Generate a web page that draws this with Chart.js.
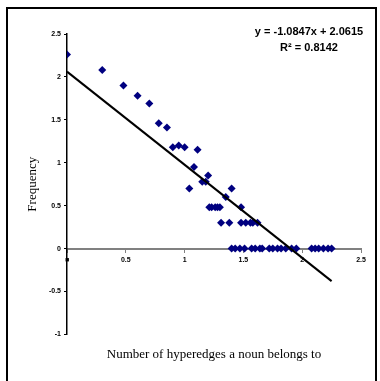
<!DOCTYPE html>
<html>
<head>
<meta charset="utf-8">
<script src="https://cdn.jsdelivr.net/npm/chart.js@4/dist/chart.umd.min.js"></script>
<style>
  html, body { margin: 0; padding: 0; background: #fff; }
  #box { width: 380px; height: 381px; }
</style>
</head>
<body>
<div id="box"><canvas id="myChart" width="380" height="381"></canvas></div>
<script>
// dados
const pontosX = [0, 0.30, 0.48, 0.60, 0.70, 0.78, 0.85, 0.90, 0.95, 1.00,
  1.04, 1.08, 1.11, 1.15, 1.18, 1.20, 1.21, 1.23, 1.26, 1.28,
  1.30, 1.31, 1.35, 1.38, 1.40, 1.48, 1.48, 1.52, 1.56, 1.58, 1.62,
  1.40, 1.43, 1.47, 1.51, 1.57, 1.60, 1.64, 1.66, 1.72, 1.75,
  1.79, 1.82, 1.86, 1.91, 1.95, 2.08, 2.11, 2.14, 2.18, 2.22, 2.25];
const pontosY = [2.26, 2.08, 1.90, 1.78, 1.69, 1.46, 1.41, 1.18, 1.20, 1.18,
  0.70, 0.95, 1.15, 0.78, 0.78, 0.85, 0.48, 0.48, 0.48, 0.48,
  0.48, 0.30, 0.60, 0.30, 0.70, 0.48, 0.30, 0.30, 0.30, 0.30, 0.30,
  0, 0, 0, 0, 0, 0, 0, 0, 0, 0,
  0, 0, 0, 0, 0, 0, 0, 0, 0, 0, 0];

// linha de tendencia (equacao mostrada no grafico)
const inclinacao = -1.0847;
const intercepto = 2.0615;
const textoEquacao = 'y = -1.0847x + 2.0615';
const textoR2 = 'R\u00B2 = 0.8142';

const ticksX = [0, 0.5, 1, 1.5, 2, 2.5];
const ticksY = [-1, -0.5, 0, 0.5, 1, 1.5, 2, 2.5];

const tituloX = 'Number of hyperedges a noun belongs to';
const tituloY = 'Frequency';

const pontos = pontosX.map((x, i) => ({ x: x, y: pontosY[i] }));
const xFim = Math.max(...pontosX);
const tendencia = [
  { x: 0, y: intercepto },
  { x: xFim, y: inclinacao * xFim + intercepto }
];

const fonteTick = { family: "'Liberation Sans', Arial", size: 7, weight: 'bold' };
const fonteSerif = { family: "'Liberation Serif', 'Times New Roman'", size: 13, weight: 'normal' };

// moldura e texto da equacao
const extras = {
  id: 'extras',
  beforeDraw(chart) {
    const c = chart.ctx;
    c.save();
    c.fillStyle = '#fff';
    c.fillRect(0, 0, chart.width, chart.height);
    c.restore();
  },
  afterDraw(chart) {
    const c = chart.ctx;
    c.save();
    c.strokeStyle = '#000';
    c.lineWidth = 2;
    c.beginPath();
    c.moveTo(7, chart.height);
    c.lineTo(7, 8);
    c.lineTo(376, 8);
    c.lineTo(376, chart.height);
    c.stroke();

    c.fillStyle = '#000';
    c.font = "bold 11px 'Liberation Sans', Arial";
    c.textAlign = 'center';
    c.textBaseline = 'middle';
    c.fillText(textoEquacao, 309, 32);
    c.fillText(textoR2, 309, 48);
    c.restore();
  }
};

const ctx = document.getElementById('myChart').getContext('2d');

new Chart(ctx, {
  data: {
    datasets: [{
      type: 'scatter',
      data: pontos,
      pointStyle: 'rectRot',
      pointRadius: 4,
      backgroundColor: '#000080',
      borderColor: '#000080',
      borderWidth: 0,
      order: 2
    }, {
      type: 'line',
      data: tendencia,
      borderColor: '#000',
      borderWidth: 2,
      pointRadius: 0,
      fill: false,
      order: 1
    }]
  },
  options: {
    responsive: false,
    animation: false,
    layout: { padding: { left: 7, top: 34, right: 19, bottom: 0 } },
    plugins: {
      legend: { display: false },
      tooltip: { enabled: false },
      title: {
        display: true,
        position: 'bottom',
        fullSize: false,
        text: tituloX,
        color: '#000',
        font: fonteSerif,
        padding: { top: 12, bottom: 19 }
      }
    },
    scales: {
      x: {
        type: 'linear',
        position: { y: 0 },
        min: 0,
        max: 2.5,
        afterBuildTicks: (scale) => { scale.ticks = ticksX.map(v => ({ value: v })); },
        ticks: {
          color: '#000',
          font: fonteTick,
          padding: 4,
          maxRotation: 0,
          callback: (v) => v === 0 ? '\u25A0' : String(v)
        },
        grid: { drawOnChartArea: false, drawTicks: true, tickLength: 3, color: '#808080' },
        border: { color: '#808080', width: 2 }
      },
      y: {
        type: 'linear',
        position: 'left',
        min: -1,
        max: 2.5,
        afterBuildTicks: (scale) => { scale.ticks = ticksY.map(v => ({ value: v })); },
        afterFit: (scale) => { scale.width = 60; },
        ticks: {
          color: '#000',
          font: fonteTick,
          padding: 3,
          callback: (v) => String(v)
        },
        grid: { drawOnChartArea: false, drawTicks: true, tickLength: 3, color: '#000' },
        border: { color: '#000', width: 1.5 },
        title: {
          display: true,
          text: tituloY,
          color: '#000',
          font: fonteSerif,
          padding: { top: 18, bottom: 0 }
        }
      }
    }
  },
  plugins: [extras]
});
</script>
</body>
</html>
